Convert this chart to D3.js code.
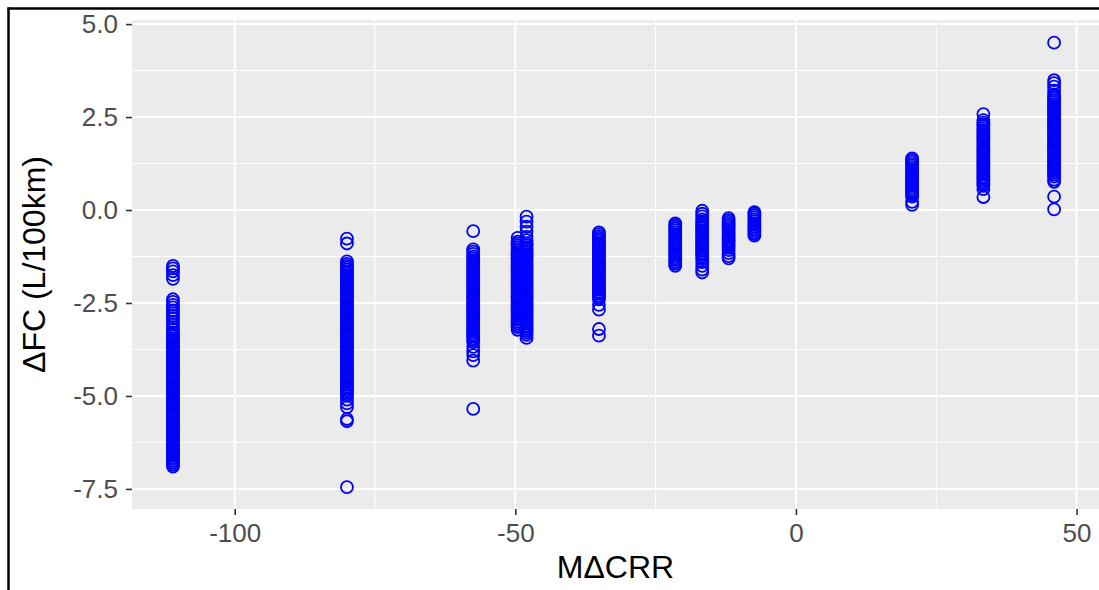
<!DOCTYPE html>
<html><head><meta charset="utf-8">
<script src="https://cdn.jsdelivr.net/npm/d3@7"></script>
<style>body{margin:0;background:#fff} svg{display:block}</style>
</head><body><svg id="c" width="1099" height="590"></svg>
<script>
// MΔCRR levels (x) for each vertical column of points
const mcrrLevels = [-111, -80, -57.5, -49.6, -48, -35.1, -21.5, -16.7, -12, -7.4, 20.7, 33.4, 46];

// ΔFC values (y) read per column
const dfcA = [-1.5,-1.57,-1.65,-1.75,-1.85,-2.4,-2.47,-2.55,-2.62,-2.7,-2.77,-2.85,-2.92,-3.0,-3.07,-3.15,-3.22,
  -3.3,-3.35,-3.4,-3.45,-3.5,-3.55,-3.6,-3.65,-3.7,-3.75,-3.8,-3.85,-3.9,-3.95,-4.0,-4.05,-4.1,-4.15,-4.2,-4.25,
  -4.3,-4.35,-4.4,-4.45,-4.5,-4.55,-4.6,-4.65,-4.7,-4.75,-4.8,-4.85,-4.9,-4.95,-5.0,-5.05,-5.1,-5.15,-5.2,-5.25,
  -5.3,-5.35,-5.4,-5.45,-5.5,-5.55,-5.6,-5.65,-5.7,-5.75,-5.8,-5.85,-5.9,-5.95,-6.0,-6.05,-6.1,-6.15,-6.2,-6.25,
  -6.3,-6.35,-6.4,-6.45,-6.5,-6.55,-6.6,-6.65,-6.7,-6.75,-6.8,-6.85,-6.9];
const dfcB = [-0.77,-0.9,-1.38,-1.45,-1.5,-1.55,-1.6,-1.65,-1.7,-1.75,-1.8,-1.85,-1.9,-1.95,-2.0,-2.05,-2.1,-2.15,
  -2.2,-2.25,-2.3,-2.35,-2.4,-2.45,-2.5,-2.55,-2.6,-2.65,-2.7,-2.75,-2.8,-2.85,-2.9,-2.95,-3.0,-3.05,-3.1,-3.15,
  -3.2,-3.25,-3.3,-3.35,-3.4,-3.45,-3.5,-3.55,-3.6,-3.65,-3.7,-3.75,-3.8,-3.85,-3.9,-3.95,-4.0,-4.05,-4.1,-4.15,
  -4.2,-4.25,-4.3,-4.35,-4.4,-4.45,-4.5,-4.55,-4.6,-4.65,-4.7,-4.75,-4.8,-4.85,-4.9,-4.95,-5.0,
  -5.1,-5.2,-5.3,-5.62,-5.68,-7.45];
const dfcC = [-0.57,-1.06,-1.12,-1.18,-1.25,-1.3,-1.35,-1.4,-1.45,-1.5,-1.55,-1.6,-1.65,-1.7,-1.75,-1.8,-1.85,
  -1.9,-1.95,-2.0,-2.05,-2.1,-2.15,-2.2,-2.25,-2.3,-2.35,-2.4,-2.45,-2.5,-2.55,-2.6,-2.65,-2.7,-2.75,-2.8,-2.85,
  -2.9,-2.95,-3.0,-3.05,-3.1,-3.15,-3.2,-3.25,-3.3,-3.35,-3.4,-3.45,-3.5,-3.55,-3.68,-3.8,-3.9,-4.05,-5.35];
const dfcD = [-0.75,-0.85,-0.9,-0.95,-1.0,-1.05,-1.1,-1.15,-1.2,-1.25,-1.3,-1.35,-1.4,-1.45,-1.5,-1.55,-1.6,
  -1.65,-1.7,-1.75,-1.8,-1.85,-1.9,-1.95,-2.0,-2.05,-2.1,-2.15,-2.2,-2.25,-2.3,-2.35,-2.4,-2.45,-2.5,-2.55,-2.6,
  -2.65,-2.7,-2.75,-2.8,-2.85,-2.9,-2.95,-3.0,-3.05,-3.1,-3.15,-3.22];
const dfcE = [-0.18,-0.31,-0.45,-0.58,-0.72,-0.81,-0.9,-0.95,-1.0,-1.05,-1.1,-1.15,-1.2,-1.25,-1.3,-1.35,-1.4,
  -1.45,-1.5,-1.55,-1.6,-1.65,-1.7,-1.75,-1.8,-1.85,-1.9,-1.95,-2.0,-2.05,-2.1,-2.15,-2.2,-2.25,-2.3,-2.35,-2.4,
  -2.45,-2.5,-2.55,-2.6,-2.65,-2.7,-2.75,-2.8,-2.85,-2.9,-2.95,-3.0,-3.05,-3.1,-3.15,-3.2,-3.25,-3.3,-3.36,-3.44];
const dfcF = [-0.6,-0.65,-0.7,-0.75,-0.8,-0.85,-0.9,-0.95,-1.0,-1.05,-1.1,-1.15,-1.2,-1.25,-1.3,-1.35,-1.4,-1.45,
  -1.5,-1.55,-1.6,-1.65,-1.7,-1.75,-1.8,-1.85,-1.9,-1.95,-2.0,-2.05,-2.1,-2.15,-2.2,-2.25,-2.3,-2.35,-2.4,
  -2.55,-2.68,-3.2,-3.38];
const dfcG = [-0.36,-0.4,-0.45,-0.5,-0.55,-0.6,-0.65,-0.7,-0.75,-0.8,-0.85,-0.9,-0.95,-1.0,-1.05,-1.1,-1.15,-1.2,
  -1.25,-1.3,-1.35,-1.4,-1.45,-1.5];
const dfcH = [-0.02,-0.1,-0.17,-0.25,-0.3,-0.35,-0.4,-0.45,-0.5,-0.55,-0.6,-0.65,-0.7,-0.75,-0.8,-0.85,-0.9,-0.95,
  -1.0,-1.05,-1.1,-1.15,-1.2,-1.25,-1.32,-1.4,-1.5,-1.6,-1.68];
const dfcI = [-0.22,-0.27,-0.32,-0.37,-0.42,-0.47,-0.52,-0.57,-0.62,-0.67,-0.72,-0.77,-0.82,-0.87,-0.92,-0.97,-1.02,
  -1.08,-1.16,-1.24,-1.3];
const dfcJ = [-0.06,-0.1,-0.15,-0.2,-0.25,-0.3,-0.35,-0.4,-0.45,-0.5,-0.55,-0.6,-0.65,-0.69];
const dfcK = [1.39,1.35,1.3,1.25,1.2,1.15,1.1,1.05,1.0,0.95,0.9,0.85,0.8,0.75,0.7,0.65,0.6,0.55,0.5,0.45,0.4,
  0.36,0.22,0.14];
const dfcL = [2.58,2.42,2.35,2.3,2.25,2.2,2.15,2.1,2.05,2.0,1.95,1.9,1.85,1.8,1.75,1.7,1.65,1.6,1.55,1.5,1.45,1.4,
  1.35,1.3,1.25,1.2,1.15,1.1,1.05,1.0,0.95,0.9,0.85,0.8,0.75,0.7,0.65,0.56,0.35];
const dfcM = [4.5,3.49,3.41,3.32,3.21,3.1,3.05,3.0,2.95,2.9,2.85,2.8,2.75,2.7,2.65,2.6,2.55,2.5,2.45,2.4,2.35,2.3,
  2.25,2.2,2.15,2.1,2.05,2.0,1.95,1.9,1.85,1.8,1.75,1.7,1.65,1.6,1.55,1.5,1.45,1.4,1.35,1.3,1.25,1.2,1.15,1.1,
  1.05,1.0,0.95,0.9,0.82,0.76,0.36,0.02];
const dfcColumns = [dfcA, dfcB, dfcC, dfcD, dfcE, dfcF, dfcG, dfcH, dfcI, dfcJ, dfcK, dfcL, dfcM];

const xTicks = [-100, -50, 0, 50];
const xMinor = [-75, -25, 25];
const yTicks = [5, 2.5, 0, -2.5, -5, -7.5];
const yMinor = [3.75, 1.25, -1.25, -3.75, -6.25];
const xLabel = "MΔCRR";
const yLabel = "ΔFC (L/100km)";

const points = [];
mcrrLevels.forEach((m, i) => dfcColumns[i].forEach(v => points.push({x: m, y: v})));

const svg = d3.select("#c");
const L = 132, R = 1099, T = 20, B = 509;
const x = d3.scaleLinear().domain([-118.3, 54]).range([L, R]);
const y = d3.scaleLinear().domain([-8.04, 5.11]).range([B, T]);
const font = "'Liberation Sans', Arial, sans-serif";

svg.append("rect").attr("x", L).attr("y", T).attr("width", R - L).attr("height", B - T).attr("fill", "#EBEBEB");

const grid = svg.append("g");
grid.selectAll(".ym").data(yMinor).join("line").attr("x1", L).attr("x2", R)
  .attr("y1", d => y(d)).attr("y2", d => y(d)).attr("stroke", "#fff").attr("stroke-width", 1);
grid.selectAll(".xm").data(xMinor).join("line").attr("y1", T).attr("y2", B)
  .attr("x1", d => x(d)).attr("x2", d => x(d)).attr("stroke", "#fff").attr("stroke-width", 1);
grid.selectAll(".yM").data(yTicks).join("line").attr("x1", L).attr("x2", R)
  .attr("y1", d => y(d)).attr("y2", d => y(d)).attr("stroke", "#fff").attr("stroke-width", 2);
grid.selectAll(".xM").data(xTicks).join("line").attr("y1", T).attr("y2", B)
  .attr("x1", d => x(d)).attr("x2", d => x(d)).attr("stroke", "#fff").attr("stroke-width", 2);

svg.append("g").selectAll("circle").data(points).join("circle")
  .attr("cx", d => x(d.x)).attr("cy", d => y(d.y)).attr("r", 6)
  .attr("fill", "none").attr("stroke", "#0000FF").attr("stroke-width", 1.8);

const yAxis = svg.append("g").attr("transform", `translate(${L},0)`)
  .call(d3.axisLeft(y).tickValues(yTicks).tickFormat(d => d.toFixed(1)).tickSize(6).tickPadding(8));
const xAxis = svg.append("g").attr("transform", `translate(0,${B})`)
  .call(d3.axisBottom(x).tickValues(xTicks).tickFormat(d => String(d)).tickSize(6).tickPadding(8.5));
[xAxis, yAxis].forEach(a => {
  a.select(".domain").remove();
  a.selectAll(".tick line").attr("stroke", "#333").attr("stroke-width", 1.6);
  a.selectAll(".tick text").attr("fill", "#4D4D4D").style("font-family", font).style("font-size", "26px");
});

svg.append("text").attr("x", (L + R) / 2).attr("y", 578).attr("text-anchor", "middle")
  .style("font-family", font).style("font-size", "32px").attr("fill", "#000").text(xLabel);
svg.append("text").attr("transform", `translate(45,${(T + B) / 2}) rotate(-90)`).attr("text-anchor", "middle")
  .style("font-family", font).style("font-size", "32px").attr("fill", "#000").text(yLabel);

// outer figure border (left and top visible)
svg.append("line").attr("x1", 8.5).attr("x2", 8.5).attr("y1", 7.5).attr("y2", 590).attr("stroke", "#000").attr("stroke-width", 2.5);
svg.append("line").attr("x1", 7.5).attr("x2", 1099).attr("y1", 8.5).attr("y2", 8.5).attr("stroke", "#000").attr("stroke-width", 2.5);
</script></body></html>
